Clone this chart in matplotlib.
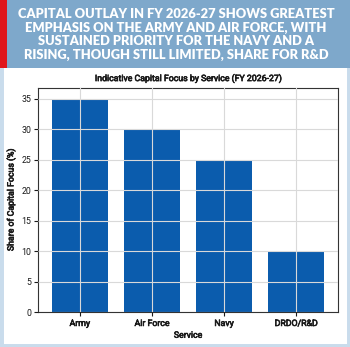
import matplotlib
matplotlib.use("Agg")
import matplotlib.pyplot as plt
from matplotlib.patches import Rectangle
import matplotlib.patheffects as pe

services = ["Army", "Air Force", "Navy", "DRDO/R&D"]
share = [35, 30, 25, 10]

headline = ("CAPITAL OUTLAY IN FY 2026-27 SHOWS GREATEST\n"
            "EMPHASIS ON THE ARMY AND AIR FORCE, WITH\n"
            "SUSTAINED PRIORITY FOR THE NAVY AND A\n"
            "RISING, THOUGH STILL LIMITED, SHARE FOR R&D")
chart_title = "Indicative Capital Focus by Service (FY 2026-27)"
x_label = "Service"
y_label = "Share of Capital Focus (%)"

plt.rcParams["font.family"] = ["Roboto", "DejaVu Sans"]
text_col = "#1a1a1a"
# slight stroke to thicken the labels
heavy = [pe.withStroke(linewidth=0.45, foreground=text_col)]

W, H = 350, 347
fig = plt.figure(figsize=(W / 100, H / 100), dpi=100)
fig.patch.set_facecolor("white")

# outer light-blue frame
frame_col = "#c9dcec"
fig.add_artist(Rectangle((0, 0), 1, 1, transform=fig.transFigure,
                         facecolor="none", edgecolor=frame_col, linewidth=5))

# header band with red accent strip
band_h = 68 / H
fig.add_artist(Rectangle((0, 1 - band_h), 1, band_h, transform=fig.transFigure,
                         facecolor="#7ea8cb", edgecolor="none"))
fig.add_artist(Rectangle((0, 1 - band_h), 7 / W, band_h, transform=fig.transFigure,
                         facecolor="#e0161b", edgecolor="none"))
fig.text(0.5 + 1 / W, 1 - 34.5 / H, headline, ha="center", va="center",
         color="white", fontsize=9.3, fontweight="heavy", family="Lato",
         linespacing=1.15)

ax = fig.add_axes([38 / W, 1 - 312 / H, 300 / W, 224 / H])
ax.bar(services, share, width=0.78, color="#0b5cad", zorder=2)
ax.set_ylim(0, max(share) * 1.05)
ax.set_yticks(range(0, 36, 5))
ax.grid(True, color="#d9d9d9", linewidth=0.8, zorder=3)
ax.set_axisbelow(False)
for s in ax.spines.values():
    s.set_color("#333333")
    s.set_linewidth(0.8)
ax.tick_params(labelsize=6.3, length=3, width=0.8, pad=2, colors=text_col)
for lbl in ax.get_xticklabels():
    lbl.set_path_effects(heavy)
xl = ax.set_xlabel(x_label, fontsize=6.3, labelpad=2, color=text_col)
yl = ax.set_ylabel(y_label, fontsize=6.3, labelpad=4, color=text_col)
tt = ax.set_title(chart_title, fontsize=6.3, pad=5, color=text_col)
for t in (xl, yl, tt):
    t.set_path_effects(heavy)

fig.savefig("out.png", dpi=100, facecolor=fig.get_facecolor())
